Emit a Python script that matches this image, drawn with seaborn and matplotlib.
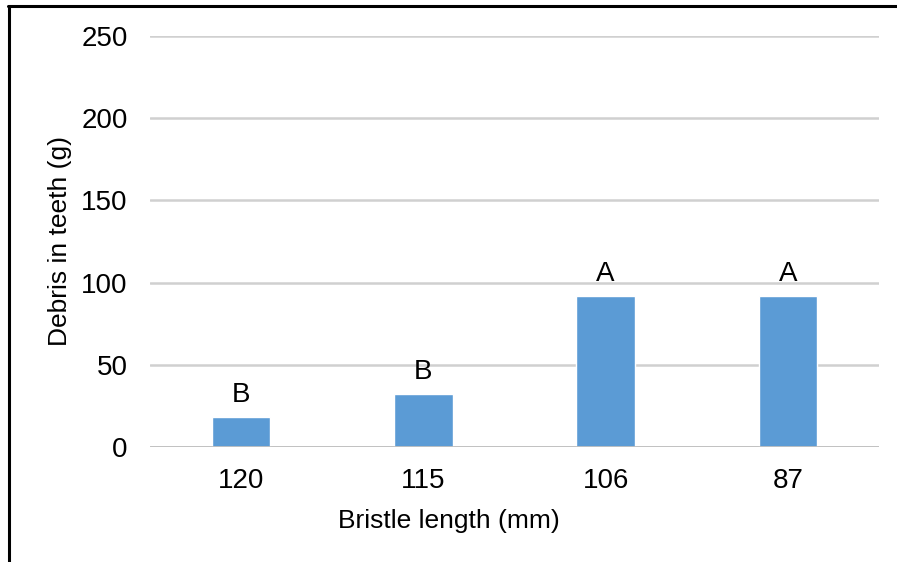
import matplotlib
matplotlib.use("Agg")
import matplotlib.pyplot as plt
import seaborn as sns
import pandas as pd
from matplotlib.lines import Line2D

categories = ["120", "115", "106", "87"]
values = [18, 32, 92, 92]
letters = ["B", "B", "A", "A"]
yticks = [0, 50, 100, 150, 200, 250]

sns.set_theme(style="white")
plt.rcParams["font.family"] = ["Liberation Sans", "DejaVu Sans"]
plt.rcParams["text.color"] = "black"
plt.rcParams["axes.labelcolor"] = "black"
plt.rcParams["xtick.color"] = "black"
plt.rcParams["ytick.color"] = "black"

FS = 20
LFS = 19

df = pd.DataFrame({"Bristle length": categories, "Debris": values})

fig = plt.figure(figsize=(8.97, 5.62), dpi=100)
ax = fig.add_axes([150/897, 1-447/562, (879-150)/897, (447-36)/562])

sns.barplot(data=df, x="Bristle length", y="Debris", order=categories,
            color="#5b9bd5", saturation=1, width=0.32, ax=ax, zorder=3)

ax.set_ylim(0, 250)
ax.set_xlim(-0.5, 3.5)
ax.set_yticks(yticks)
ax.set_yticklabels([str(t) for t in yticks], fontsize=FS)
ax.tick_params(axis="x", labelsize=FS, length=0, pad=15)
ax.tick_params(axis="y", length=0, pad=16)
for t in yticks:
    ax.axhline(t, color="#d0d0d0", lw=1.8, zorder=1)
ax.axhline(0, color="#c0c0c0", lw=2, zorder=4)
for s in ax.spines.values():
    s.set_visible(False)

ax.set_xlabel("Bristle length (mm)", fontsize=LFS, labelpad=11)
ax.xaxis.label.set_x((449 - 150) / 729)
ax.set_ylabel("Debris in teeth (g)", fontsize=LFS, labelpad=7)

for i, (v, l) in enumerate(zip(values, letters)):
    ax.annotate(l, (i, v), xytext=(0, 16), textcoords="offset points",
                ha="center", va="center", fontsize=FS, color="black")

fig.add_artist(Line2D([8/897, 1], [1-6/562, 1-6/562], color="black", lw=2.2, transform=fig.transFigure))
fig.add_artist(Line2D([9/897, 9/897], [0, 1-6/562], color="black", lw=2.2, transform=fig.transFigure))

fig.savefig("out.png", dpi=100, facecolor="white")
